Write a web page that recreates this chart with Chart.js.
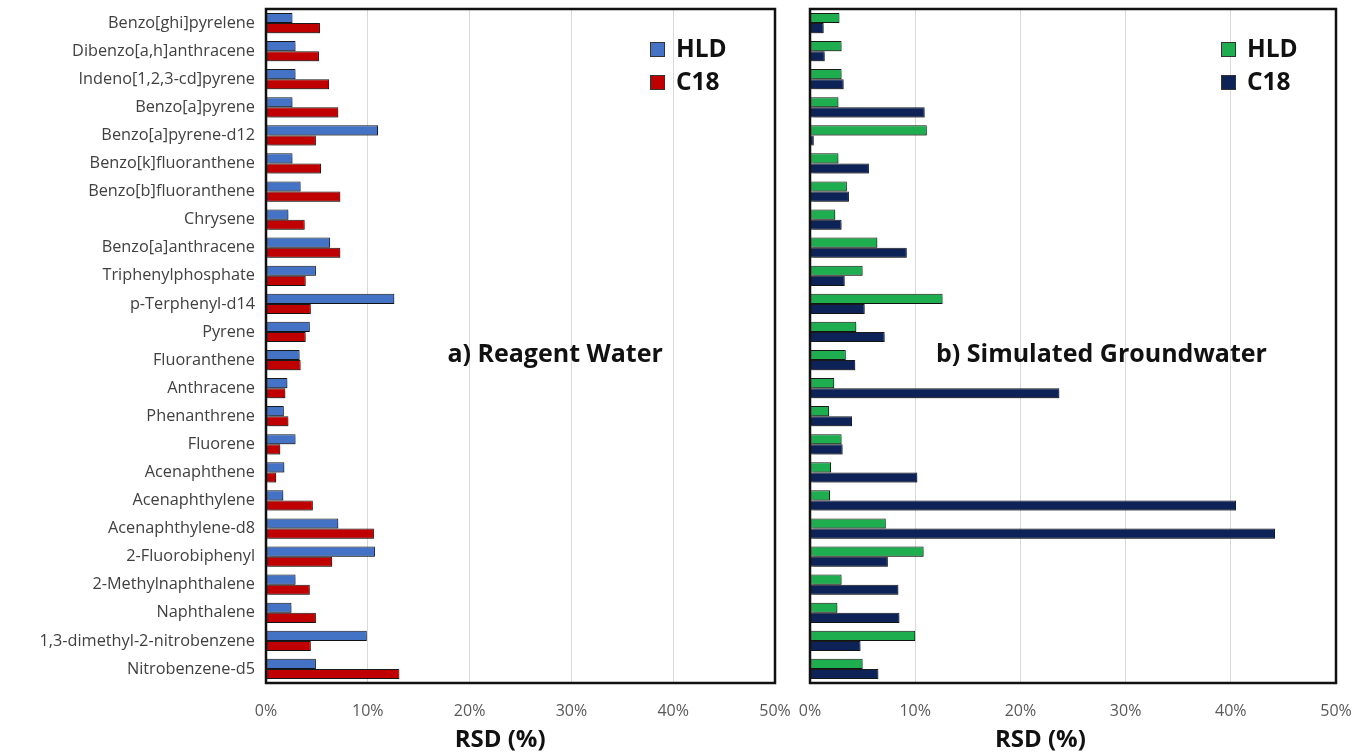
<!DOCTYPE html>
<html>
<head>
<meta charset="utf-8">
<script src="https://cdn.jsdelivr.net/npm/chart.js@4/dist/chart.umd.min.js"></script>
<style>
  html, body { margin: 0; padding: 0; background: #fff; }
  #wrap { position: relative; width: 1368px; height: 756px; }
  #left { position: absolute; left: 0; top: 0; }
  #right { position: absolute; left: 790px; top: 0; }
</style>
</head>
<body>
<div id="wrap">
  <canvas id="left" width="790" height="756"></canvas>
  <canvas id="right" width="578" height="756"></canvas>
</div>
<script>
// Compounds, listed top to bottom
const compounds = [
  'Benzo[ghi]pyrelene', 'Dibenzo[a,h]anthracene', 'Indeno[1,2,3-cd]pyrene', 'Benzo[a]pyrene',
  'Benzo[a]pyrene-d12', 'Benzo[k]fluoranthene', 'Benzo[b]fluoranthene', 'Chrysene',
  'Benzo[a]anthracene', 'Triphenylphosphate', 'p-Terphenyl-d14', 'Pyrene',
  'Fluoranthene', 'Anthracene', 'Phenanthrene', 'Fluorene',
  'Acenaphthene', 'Acenaphthylene', 'Acenaphthylene-d8', '2-Fluorobiphenyl',
  '2-Methylnaphthalene', 'Naphthalene', '1,3-dimethyl-2-nitrobenzene', 'Nitrobenzene-d5'
];

// RSD (%) in reagent water
const reagentHLD = [2.6, 2.9, 2.9, 2.6, 11.0, 2.6, 3.4, 2.2, 6.3, 4.9, 12.6, 4.3,
                    3.3, 2.1, 1.75, 2.9, 1.8, 1.7, 7.1, 10.7, 2.9, 2.5, 9.9, 4.9];
const reagentC18 = [5.3, 5.2, 6.2, 7.1, 4.9, 5.4, 7.3, 3.8, 7.3, 3.9, 4.4, 3.9,
                    3.4, 1.9, 2.2, 1.4, 1.0, 4.6, 10.6, 6.5, 4.3, 4.9, 4.4, 13.1];

// RSD (%) in simulated groundwater
const groundHLD = [2.8, 3.0, 3.0, 2.7, 11.1, 2.7, 3.5, 2.4, 6.4, 5.0, 12.6, 4.4,
                   3.4, 2.3, 1.8, 3.0, 2.0, 1.9, 7.2, 10.8, 3.0, 2.6, 10.0, 5.0];
const groundC18 = [1.3, 1.4, 3.2, 10.9, 0.36, 5.6, 3.7, 3.0, 9.2, 3.3, 5.2, 7.1,
                   4.3, 23.7, 4.0, 3.1, 10.2, 40.5, 44.2, 7.4, 8.4, 8.5, 4.8, 6.5];

const xTicks = [0, 10, 20, 30, 40, 50];
const axisTitle = 'RSD (%)';

const FONT = '"Open Sans", "Noto Sans", sans-serif';

// Soft drop shadow under the bars
const barShadow = {
  id: 'barShadow',
  beforeDatasetsDraw(chart) {
    const ctx = chart.ctx;
    ctx.save();
    ctx.shadowColor = 'rgba(0,0,0,0.35)';
    ctx.shadowBlur = 3;
    ctx.shadowOffsetX = 2;
    ctx.shadowOffsetY = 2;
  },
  afterDatasetsDraw(chart) {
    chart.ctx.restore();
  }
};

// Heavy frame around the plot area
const plotFrame = {
  id: 'plotFrame',
  afterDraw(chart) {
    const { ctx, chartArea: a } = chart;
    ctx.save();
    ctx.strokeStyle = '#111';
    ctx.lineWidth = 2.5;
    ctx.strokeRect(a.left, a.top, a.right - a.left, a.bottom - a.top);
    ctx.restore();
  }
};

// Inset legend, panel caption and the x axis title
const panelText = {
  id: 'panelText',
  afterDraw(chart, args, opts) {
    const { ctx, chartArea: a, scales } = chart;
    ctx.save();
    // legend
    ctx.font = 'bold 24.5px ' + FONT;
    ctx.textBaseline = 'middle';
    chart.data.datasets.forEach((ds, i) => {
      const x = a.right - opts.legendRight;
      const y = opts.legendTop + i * 33;
      ctx.fillStyle = ds.backgroundColor;
      ctx.fillRect(x, y - 8, 15, 15);
      ctx.strokeStyle = '#333';
      ctx.lineWidth = 1;
      ctx.strokeRect(x + 0.5, y - 7.5, 14, 14);
      ctx.fillStyle = '#111';
      ctx.textAlign = 'left';
      ctx.fillText(ds.label, x + 26, y);
    });
    // caption
    ctx.font = 'bold 25px ' + FONT;
    ctx.textAlign = 'center';
    ctx.fillStyle = '#111';
    ctx.fillText(opts.caption, scales.x.getPixelForValue(opts.captionX), scales.y.getPixelForValue(opts.captionY));
    // axis title
    ctx.font = 'bold 24px ' + FONT;
    ctx.fillText(axisTitle, scales.x.getPixelForValue(opts.titleX), chart.height - 16);
    ctx.restore();
  }
};

function makeChart(id, hld, c18, colors, showLabels, padding, caption, captionX, legendRight, titleX) {
  return new Chart(document.getElementById(id), {
    type: 'bar',
    data: {
      labels: compounds,
      datasets: [
        { label: 'HLD', data: hld, backgroundColor: colors[0], borderColor: '#1b1b1b', borderWidth: 1 },
        { label: 'C18', data: c18, backgroundColor: colors[1], borderColor: '#1b1b1b', borderWidth: 1 }
      ]
    },
    options: {
      indexAxis: 'y',
      responsive: false,
      animation: false,
      events: [],
      layout: { padding: padding },
      datasets: { bar: { categoryPercentage: 0.72, barPercentage: 1.0 } },
      plugins: {
        legend: { display: false },
        tooltip: { enabled: false },
        panelText: { caption: caption, captionX: captionX, captionY: 11.8, legendTop: 50, legendRight: legendRight, titleX: titleX }
      },
      scales: {
        x: {
          min: 0, max: 50,
          afterBuildTicks: s => { s.ticks = xTicks.map(v => ({ value: v })); },
          afterFit: s => { s.height = 73; s.paddingLeft = 0; s.paddingRight = 0; },
          grid: { color: '#d9d9d9', lineWidth: 1, drawTicks: false },
          border: { display: false },
          ticks: { padding: 19, color: '#595959', font: { family: FONT, size: 16 }, callback: v => v + '%' },
          title: { display: false }
        },
        y: {
          display: showLabels,
          afterFit: s => { if (showLabels) s.width = 266; s.paddingTop = 0; s.paddingBottom = 0; },
          grid: { display: false, drawTicks: false },
          border: { display: false },
          ticks: { padding: 11, color: '#404040', font: { family: FONT, size: 16.3 }, autoSkip: false }
        }
      }
    },
    plugins: [barShadow, plotFrame, panelText]
  });
}

makeChart('left', reagentHLD, reagentC18, ['#4472c4', '#c00000'], true,
  { top: 9, right: 15, left: 0, bottom: 0 }, 'a) Reagent Water', 28.4, 125, 23.0);
makeChart('right', groundHLD, groundC18, ['#1fae4f', '#0d2358'], false,
  { top: 9, right: 32, left: 20, bottom: 0 }, 'b) Simulated Groundwater', 27.7, 115, 21.9);
</script>
</body>
</html>
